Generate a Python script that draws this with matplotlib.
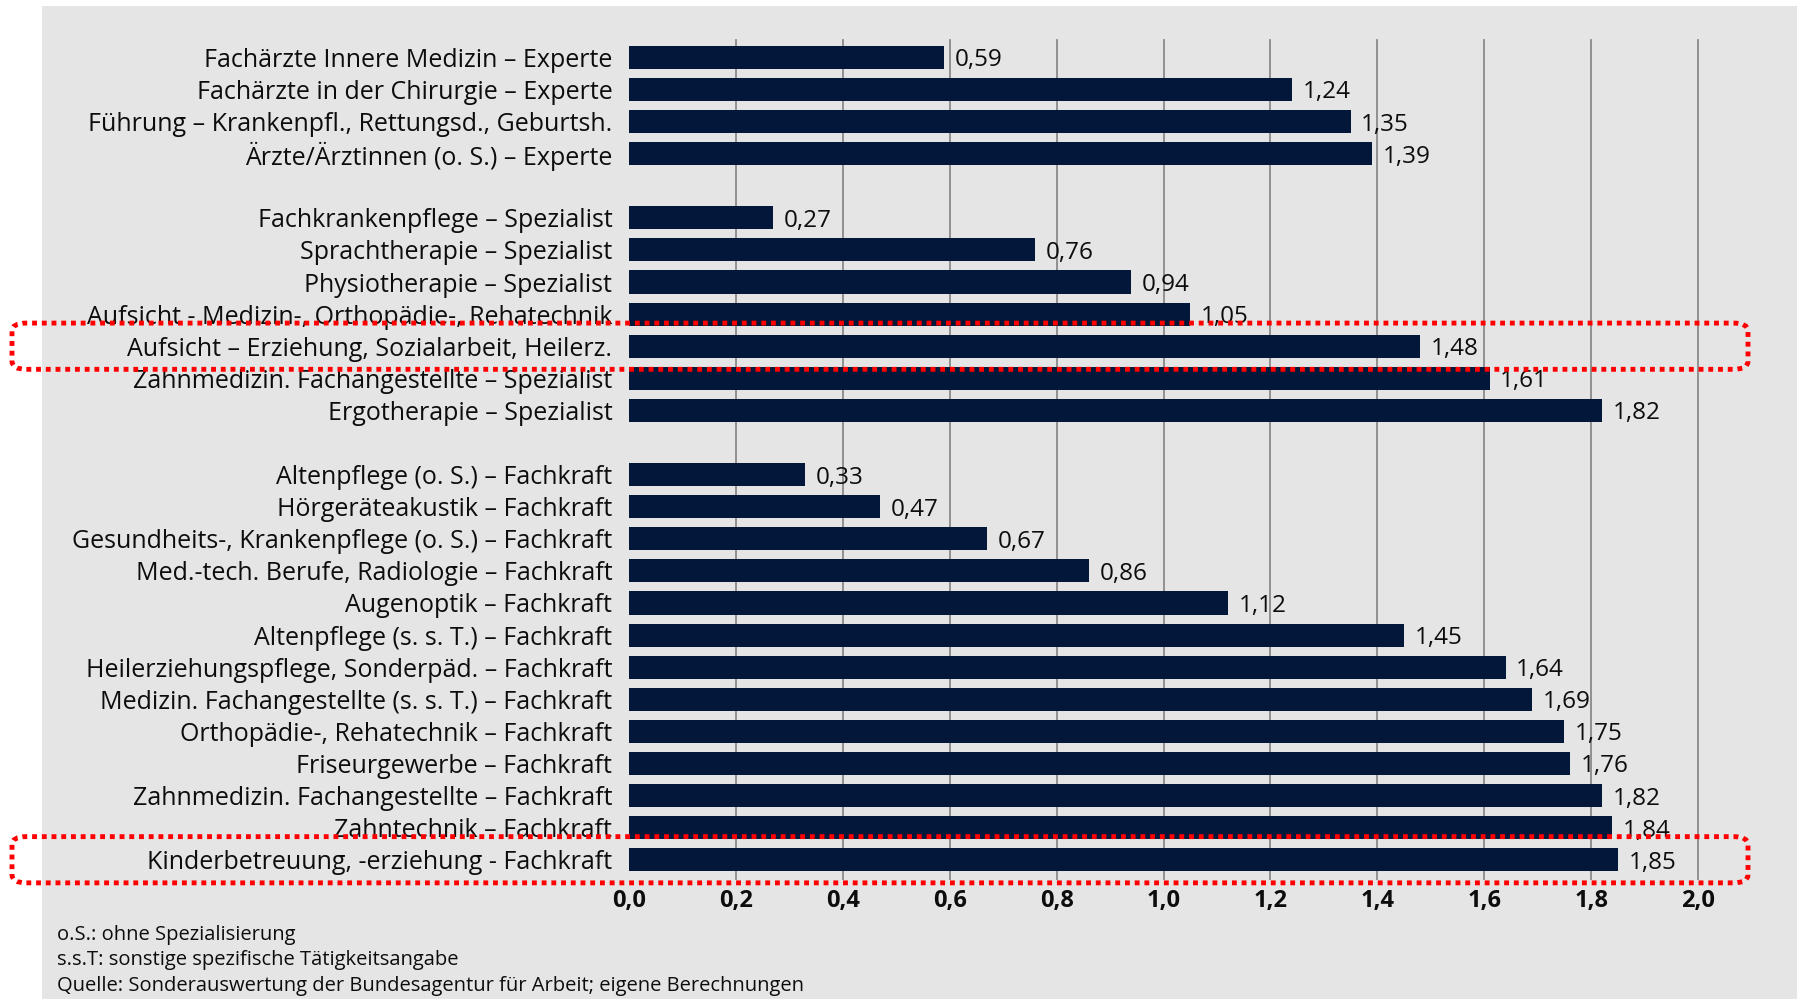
import matplotlib.pyplot as plt
from matplotlib.patches import FancyBboxPatch, Rectangle

plt.rcParams['font.family'] = ['Open Sans', 'DejaVu Sans']

# Daten
experte = ["Fachärzte Innere Medizin – Experte",
           "Fachärzte in der Chirurgie – Experte",
           "Führung – Krankenpfl., Rettungsd., Geburtsh.",
           "Ärzte/Ärztinnen (o. S.) – Experte"]
experte_werte = [0.59, 1.24, 1.35, 1.39]

spezialist = ["Fachkrankenpflege – Spezialist",
              "Sprachtherapie – Spezialist",
              "Physiotherapie – Spezialist",
              "Aufsicht - Medizin-, Orthopädie-, Rehatechnik",
              "Aufsicht – Erziehung, Sozialarbeit, Heilerz.",
              "Zahnmedizin. Fachangestellte – Spezialist",
              "Ergotherapie – Spezialist"]
spezialist_werte = [0.27, 0.76, 0.94, 1.05, 1.48, 1.61, 1.82]

fachkraft = ["Altenpflege (o. S.) – Fachkraft",
             "Hörgeräteakustik – Fachkraft",
             "Gesundheits-, Krankenpflege (o. S.) – Fachkraft",
             "Med.-tech. Berufe, Radiologie – Fachkraft",
             "Augenoptik – Fachkraft",
             "Altenpflege (s. s. T.) – Fachkraft",
             "Heilerziehungspflege, Sonderpäd. – Fachkraft",
             "Medizin. Fachangestellte (s. s. T.) – Fachkraft",
             "Orthopädie-, Rehatechnik – Fachkraft",
             "Friseurgewerbe – Fachkraft",
             "Zahnmedizin. Fachangestellte – Fachkraft",
             "Zahntechnik – Fachkraft",
             "Kinderbetreuung, -erziehung - Fachkraft"]
fachkraft_werte = [0.33, 0.47, 0.67, 0.86, 1.12, 1.45, 1.64, 1.69, 1.75,
                   1.76, 1.82, 1.84, 1.85]

markiert = ["Aufsicht – Erziehung, Sozialarbeit, Heilerz.",
            "Kinderbetreuung, -erziehung - Fachkraft"]

xticks = [0.0, 0.2, 0.4, 0.6, 0.8, 1.0, 1.2, 1.4, 1.6, 1.8, 2.0]

fussnoten = ["o.S.: ohne Spezialisierung",
             "s.s.T: sonstige spezifische Tätigkeitsangabe",
             "Quelle: Sonderauswertung der Bundesagentur für Arbeit; eigene Berechnungen"]

# Positionen: eine Leerzeile zwischen den Gruppen
labels = []
werte = []
pos = []
p = 0
for gruppe, gw in [(experte, experte_werte), (spezialist, spezialist_werte), (fachkraft, fachkraft_werte)]:
    for lab, w in zip(gruppe, gw):
        labels.append(lab)
        werte.append(w)
        pos.append(p)
        p += 1
    p += 1

W, H = 1797, 999
fig = plt.figure(figsize=(W / 100, H / 100), dpi=100)
fig.patch.set_facecolor('white')
bg = '#e5e5e5'
fig.patches.append(Rectangle((42 / W, 0), 1 - 42 / W, 1 - 6 / H, transform=fig.transFigure,
                             facecolor=bg, edgecolor='none', zorder=-5))

x0 = 629 / W
x1 = 1698 / W
ax = fig.add_axes([x0, 1 - 879 / H, x1 - x0, (879 - 40) / H])
ax.set_facecolor('none')

navy = '#02173a'
txtcol = '#0d0d0d'
ax.barh(pos, werte, height=0.72, color=navy, zorder=3)
for y, w in zip(pos, werte):
    ax.text(w + 0.02, y, f"{w:.2f}".replace('.', ','), va='center_baseline', ha='left',
            fontsize=17.5, fontweight='medium', color=txtcol, zorder=4)

ax.set_xlim(0, 2.0)
ax.set_ylim(25.6, -0.54)
ax.set_yticks(pos)
ax.set_yticklabels(labels, fontsize=18, fontweight='medium', color=txtcol)
ax.set_xticks(xticks)
ax.set_xticklabels([f"{t:.1f}".replace('.', ',') for t in xticks], fontsize=17,
                   fontweight='bold', color=txtcol)
ax.tick_params(axis='y', length=0, pad=12)
ax.tick_params(axis='x', length=0, pad=7)
for s in ax.spines.values():
    s.set_visible(False)
for t in xticks[1:]:
    ax.axvline(t, color='#8a8a8a', lw=1.3, zorder=1, clip_on=False)

# rote gepunktete Rahmen
fig.canvas.draw()
inv = fig.transFigure.inverted()
for lab in markiert:
    y = pos[labels.index(lab)]
    _, ytop = inv.transform(ax.transData.transform((0, y - 0.72)))
    _, ybot = inv.transform(ax.transData.transform((0, y + 0.72)))
    box = FancyBboxPatch((12 / W, ybot), (1748 - 12) / W, ytop - ybot,
                         boxstyle="round,pad=0,rounding_size=0.008",
                         transform=fig.transFigure, facecolor='none',
                         edgecolor='#ff0000', lw=3.5, linestyle=(0, (1, 1)),
                         zorder=10)
    fig.patches.append(box)

for i, txt in enumerate(fussnoten):
    fig.text(57 / W, 1 - (935 + i * 25.5) / H, txt, fontsize=14.5, va='center',
             ha='left', color=txtcol)

fig.savefig('out.png', dpi=100, facecolor=fig.get_facecolor())
